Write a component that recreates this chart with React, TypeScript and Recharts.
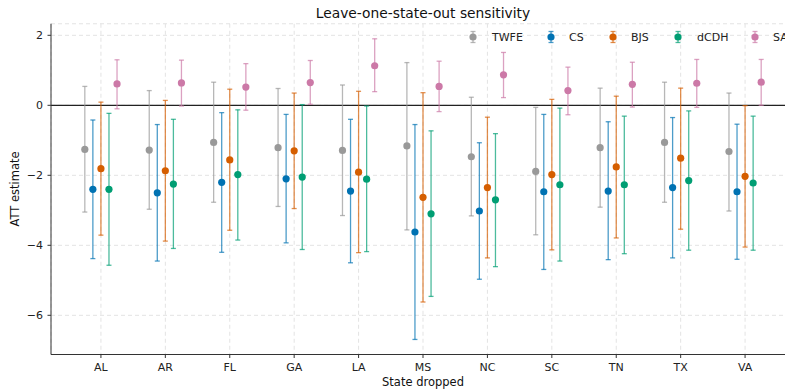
import {
  ScatterChart,
  Scatter,
  XAxis,
  YAxis,
  CartesianGrid,
  ErrorBar,
  ReferenceLine,
  Legend
} from 'recharts';

const STATES = ['AL', 'AR', 'FL', 'GA', 'LA', 'MS', 'NC', 'SC', 'TN', 'TX', 'VA'];
const Y_TICKS = [-6, -4, -2, 0, 2];

const SERIES_NAMES = ['TWFE', 'CS', 'BJS', 'dCDH', 'SA'];
const SERIES_COLORS = ['#999999', '#0072B2', '#D55E00', '#009E73', '#CC79A7'];
const SERIES_OFFSETS = [-0.25, -0.125, 0, 0.125, 0.25];

// point estimates and 95% CI bounds, one value per dropped state
const TWFE_EST = [-1.26, -1.28, -1.06, -1.21, -1.29, -1.16, -1.47, -1.89, -1.21, -1.06, -1.32];
const TWFE_LO = [-3.05, -2.97, -2.77, -2.89, -3.15, -3.56, -3.16, -3.70, -2.91, -2.77, -3.02];
const TWFE_HI = [0.54, 0.42, 0.66, 0.48, 0.58, 1.22, 0.23, -0.06, 0.49, 0.66, 0.35];

const CS_EST = [-2.40, -2.50, -2.20, -2.10, -2.45, -3.62, -3.02, -2.47, -2.45, -2.35, -2.47];
const CS_LO = [-4.38, -4.45, -4.20, -3.93, -4.50, -6.69, -4.97, -4.69, -4.41, -4.36, -4.40];
const CS_HI = [-0.42, -0.55, -0.21, -0.26, -0.40, -0.55, -1.07, -0.26, -0.47, -0.35, -0.54];

const BJS_EST = [-1.81, -1.87, -1.56, -1.30, -1.91, -2.63, -2.35, -1.98, -1.76, -1.51, -2.03];
const BJS_LO = [-3.71, -3.88, -3.57, -2.95, -4.21, -5.62, -4.36, -4.13, -3.79, -3.54, -4.05];
const BJS_HI = [0.09, 0.14, 0.46, 0.35, 0.40, 0.36, -0.34, 0.17, 0.26, 0.49, -0.01];

const DCDH_EST = [-2.40, -2.25, -1.98, -2.05, -2.11, -3.10, -2.70, -2.27, -2.27, -2.15, -2.22];
const DCDH_LO = [-4.57, -4.09, -3.85, -4.12, -4.18, -5.46, -4.61, -4.45, -4.24, -4.14, -4.14];
const DCDH_HI = [-0.23, -0.40, -0.13, 0.02, -0.02, -0.73, -0.81, -0.08, -0.31, -0.16, -0.31];

const SA_EST = [0.61, 0.64, 0.52, 0.65, 1.13, 0.54, 0.87, 0.42, 0.60, 0.63, 0.66];
const SA_LO = [-0.10, -0.02, -0.14, 0.03, 0.39, -0.18, 0.22, -0.27, -0.05, -0.06, 0.00];
const SA_HI = [1.30, 1.29, 1.19, 1.28, 1.90, 1.26, 1.51, 1.09, 1.23, 1.31, 1.31];

const EST = [TWFE_EST, CS_EST, BJS_EST, DCDH_EST, SA_EST];
const LO = [TWFE_LO, CS_LO, BJS_LO, DCDH_LO, SA_LO];
const HI = [TWFE_HI, CS_HI, BJS_HI, DCDH_HI, SA_HI];

const FONT = '"DejaVu Sans", sans-serif';

const buildSeries = (k: number) =>
  STATES.map((_, i) => ({
    x: i + SERIES_OFFSETS[k],
    y: EST[k][i],
    err: [EST[k][i] - LO[k][i], HI[k][i] - EST[k][i]]
  }));

const fmtY = (v: number) => (v < 0 ? '\u2212' + Math.abs(v) : String(v));

// legend marker / text x positions (relative to legend box)
const LEG_MARK_X = [18, 96, 158, 223, 300];
const LEG_TEXT_X = [37, 114, 176, 242, 318];

const renderLegend = () => (
  <svg width={330} height={20} style={{ display: 'block', overflow: 'visible' }}>
    {SERIES_NAMES.map((name, k) => (
      <g key={name}>
        <line x1={LEG_MARK_X[k]} x2={LEG_MARK_X[k]} y1={4.5} y2={15.5} stroke={SERIES_COLORS[k]} strokeOpacity={0.7} strokeWidth={1.3} />
        <line x1={LEG_MARK_X[k] - 2.5} x2={LEG_MARK_X[k] + 2.5} y1={4.5} y2={4.5} stroke={SERIES_COLORS[k]} strokeOpacity={0.7} strokeWidth={1.3} />
        <line x1={LEG_MARK_X[k] - 2.5} x2={LEG_MARK_X[k] + 2.5} y1={15.5} y2={15.5} stroke={SERIES_COLORS[k]} strokeOpacity={0.7} strokeWidth={1.3} />
        <circle cx={LEG_MARK_X[k]} cy={10} r={3.6} fill={SERIES_COLORS[k]} />
        <text x={LEG_TEXT_X[k]} y={14} fontSize={11} fontFamily={FONT} fill="#222">{name}</text>
      </g>
    ))}
  </svg>
);

export default function App() {
  return (
    <div style={{ position: 'absolute', left: 0, top: 0, width: 785, height: 392, overflow: 'hidden', background: '#fff', fontFamily: FONT }}>
      <div style={{ position: 'absolute', left: 423, top: 5.5, transform: 'translateX(-50%)', fontSize: 13.8, lineHeight: '14px', color: '#111', whiteSpace: 'nowrap', zIndex: 2 }}>
        Leave-one-state-out sensitivity
      </div>
      <div style={{ position: 'absolute', left: 15, top: 189, transform: 'translate(-50%, -50%) rotate(-90deg)', fontSize: 11.5, lineHeight: '12px', color: '#111', whiteSpace: 'nowrap', zIndex: 2 }}>
        ATT estimate
      </div>
      <div style={{ position: 'absolute', left: 423, top: 376, transform: 'translateX(-50%)', fontSize: 11.5, lineHeight: '12px', color: '#111', whiteSpace: 'nowrap', zIndex: 2 }}>
        State dropped
      </div>
      <ScatterChart width={800} height={392} margin={{ top: 23.75, right: 5, bottom: 0, left: 0 }}>
        <CartesianGrid stroke="#e3e3e3" strokeDasharray="4 3" />
        <XAxis
          type="number"
          dataKey="x"
          domain={[-0.775, 10.775]}
          ticks={STATES.map((_, i) => i)}
          tickFormatter={(v: number) => STATES[v]}
          interval={0}
          allowDataOverflow
          height={37.5}
          tickSize={3.5}
          tickMargin={5.5}
          axisLine={{ stroke: '#333' }}
          tickLine={{ stroke: '#333' }}
          tick={{ fill: '#222', fontSize: 11, fontFamily: FONT }}
        />
        <YAxis
          type="number"
          dataKey="y"
          domain={[-7.12, 2.33]}
          ticks={Y_TICKS}
          tickFormatter={fmtY}
          allowDataOverflow
          width={51}
          tickSize={3.5}
          tickMargin={4.5}
          axisLine={{ stroke: '#333' }}
          tickLine={{ stroke: '#333' }}
          tick={{ fill: '#222', fontSize: 11, fontFamily: FONT }}
        />
        <ReferenceLine y={0} stroke="#222" strokeWidth={1.2} />
        <Legend
          layout="horizontal"
          align="center"
          verticalAlign="middle"
          content={renderLegend}
          wrapperStyle={{ top: 27, left: 455, width: 330 }}
        />
        {SERIES_NAMES.map((name, k) => (
          <Scatter
            key={name}
            name={name}
            data={buildSeries(k)}
            fill={SERIES_COLORS[k]}
            isAnimationActive={false}
            shape={(p: any) => <circle cx={p.cx} cy={p.cy} r={3.6} fill={SERIES_COLORS[k]} />}
          >
            <ErrorBar
              dataKey="err"
              direction="y"
              width={2.5}
              stroke={SERIES_COLORS[k]}
              strokeOpacity={0.7}
              strokeWidth={1.3}
              isAnimationActive={false}
            />
          </Scatter>
        ))}
      </ScatterChart>
    </div>
  );
}
